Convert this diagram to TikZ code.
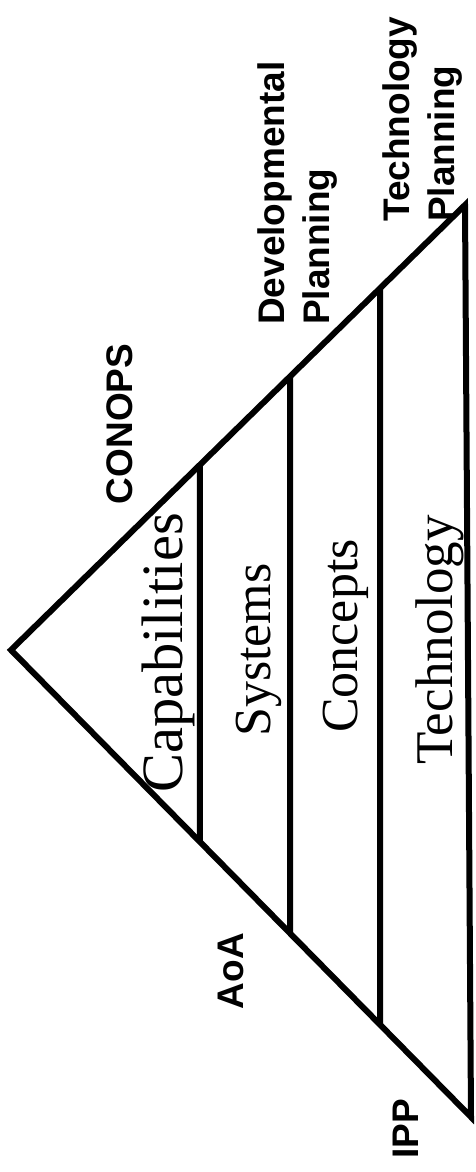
\documentclass[tikz,border=0pt]{standalone}
\usepackage{fontspec}
\setmainfont{Liberation Serif}
\setsansfont{Liberation Sans}
\usepackage{tikz}
\usetikzlibrary{calc}
\tikzstyle{edge} = [black, line width=6pt, line join=miter]
\tikzstyle{tier} = [black, line width=6pt]
\newcommand{\tiernode}[1]{\node[
  rotate=90, anchor=base, inner sep=0, font=\fontsize{#1}{#1}\selectfont
]}
\newcommand{\notenode}{\node[
  rotate=90, anchor=base, inner sep=0, align=left, font=\sffamily\bfseries\fontsize{37pt}{45pt}\selectfont
]}

\begin{document}
\begin{tikzpicture}[x=1pt, y=-1pt]
    \useasboundingbox (0, 0) rectangle (475, 1172);

    % pyramid
    \coordinate (apex)   at (11, 650);
    \coordinate (top)    at (465, 205);
    \coordinate (bottom) at (471, 1117);
    \draw[edge] (apex) -- (top) -- (bottom) -- cycle;
    \foreach \x in {200, 290, 380}
      \draw[tier] ($(apex)!{(\x-11)/454}!(top)$) -- ($(apex)!{(\x-11)/460}!(bottom)$);

    % tiers
    \tiernode{58.5pt} (capabilities) at (182, 653) {Capabilities};
    \tiernode{52pt}   (systems)      at (270, 650) {Systems};
    \tiernode{52pt}   (concepts)     at (357, 636) {Concepts};
    \tiernode{53pt}   (technology)   at (452, 640) {Technology};

    % side notes
    \notenode (conops) at (132, 424) {CONOPS};
    \notenode (aoa)    at (243, 971) {AoA};
    \notenode (ipp)    at (418, 1129) {IPP};
    \notenode [anchor=north west] (devplan)  at (257, 325) {Developmental\\Planning};
    \notenode [anchor=north west] (techplan) at (382, 222) {Technology\\Planning};
  \end{tikzpicture}
\end{document}
